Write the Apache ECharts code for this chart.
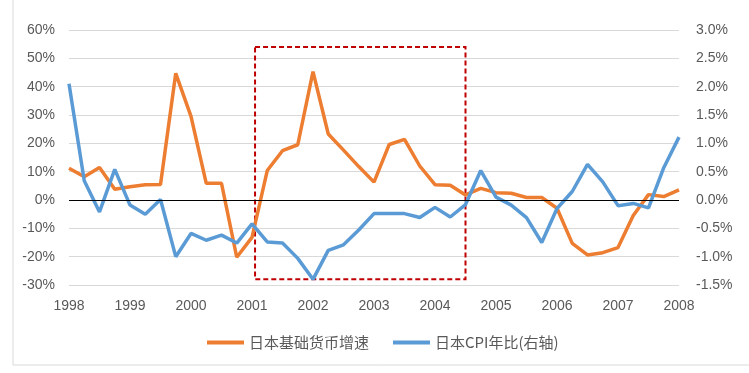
<!DOCTYPE html>
<html>
<head>
<meta charset="utf-8">
<script src="https://cdn.jsdelivr.net/npm/echarts@6/dist/echarts.min.js"></script>
<style>
html,body{margin:0;padding:0;background:#fff;}
#main{width:749px;height:373px;}
</style>
</head>
<body>
<div id="main"></div>
<script>
// Quarterly periods
var quarters = [
  '1998Q1','1998Q2','1998Q3','1998Q4',
  '1999Q1','1999Q2','1999Q3','1999Q4',
  '2000Q1','2000Q2','2000Q3','2000Q4',
  '2001Q1','2001Q2','2001Q3','2001Q4',
  '2002Q1','2002Q2','2002Q3','2002Q4',
  '2003Q1','2003Q2','2003Q3','2003Q4',
  '2004Q1','2004Q2','2004Q3','2004Q4',
  '2005Q1','2005Q2','2005Q3','2005Q4',
  '2006Q1','2006Q2','2006Q3','2006Q4',
  '2007Q1','2007Q2','2007Q3','2007Q4',
  '2008Q1'
];
// 日本基础货币增速 (%), left axis
var baseMoney = [
  11.2, 8.2, 11.5, 3.8,
  4.7, 5.4, 5.5, 44.7,
  29.5, 5.9, 5.9, -20.2,
  -13.2, 10.4, 17.4, 19.5,
  45.3, 23.3, 17.6, 11.8,
  6.3, 19.6, 21.4, 12.0,
  5.4, 5.2, 1.8, 4.1,
  2.6, 2.4, 0.9, 0.9,
  -2.9, -15.3, -19.4, -18.6,
  -16.8, -5.5, 1.9, 1.2,
  3.6
];
// 日本CPI年比 (%), right axis
var cpi = [
  2.05, 0.34, -0.21, 0.54,
  -0.09, -0.25, 0.01, -1.00,
  -0.59, -0.71, -0.62, -0.76,
  -0.42, -0.74, -0.76, -1.03,
  -1.40, -0.89, -0.79, -0.53,
  -0.24, -0.24, -0.24, -0.31,
  -0.13, -0.30, -0.08, 0.52,
  0.05, -0.09, -0.31, -0.75,
  -0.15, 0.15, 0.63, 0.32,
  -0.10, -0.06, -0.14, 0.57,
  1.11
];
// Axis ticks
var leftTicks = {min: -30, max: 60, interval: 10};
var rightTicks = {min: -1.5, max: 3.0, interval: 0.5};
var yearTicks = {min: 1998, max: 2008, interval: 1};
// Highlight box (data space): x in years, y in left-axis %
var boxX = [2001.05, 2004.5];
var boxY = [54, -28];

var seriesNames = ['日本基础货币增速', '日本CPI年比(右轴)'];

function qx(q) {
  var y = parseInt(q.slice(0, 4), 10);
  var n = parseInt(q.slice(5), 10);
  return y + (n - 1) / 4;
}
function pairs(vals) {
  return quarters.map(function (q, i) { return [qx(q), vals[i]]; });
}

var font = '"Liberation Sans", Arial, sans-serif';
var labelColor = '#595959';

var chart = echarts.init(document.getElementById('main'), null, {renderer: 'canvas'});
chart.setOption({
  animation: false,
  backgroundColor: '#ffffff',
  grid: {left: 69, right: 70, top: 30, bottom: 88, containLabel: false},
  graphic: [{
    type: 'rect',
    shape: {x: 13, y: -5, width: 800, height: 370},
    style: {fill: 'none', stroke: '#D9D9D9', lineWidth: 1},
    silent: true
  }],
  legend: {
    left: 202, top: 330,
    itemWidth: 37, itemHeight: 4, itemGap: 24,
    icon: 'rect',
    textStyle: {color: labelColor, fontSize: 15, fontFamily: '"Noto Sans CJK SC", sans-serif'},
    data: seriesNames
  },
  xAxis: {
    type: 'value',
    min: yearTicks.min, max: yearTicks.max, interval: yearTicks.interval,
    axisLine: {show: false},
    axisTick: {show: false},
    splitLine: {show: false},
    axisLabel: {color: labelColor, fontSize: 14, fontFamily: font, margin: 14,
      showMinLabel: true, showMaxLabel: true,
      formatter: function (v) { return String(Math.round(v)); }}
  },
  yAxis: [{
    type: 'value',
    min: leftTicks.min, max: leftTicks.max, interval: leftTicks.interval,
    axisLine: {show: false}, axisTick: {show: false},
    splitLine: {lineStyle: {color: '#D9D9D9', width: 1}},
    axisLabel: {color: labelColor, fontSize: 14, fontFamily: font, margin: 14,
      formatter: function (v) { return v + '%'; }}
  }, {
    type: 'value',
    min: rightTicks.min, max: rightTicks.max, interval: rightTicks.interval,
    axisLine: {show: false}, axisTick: {show: false},
    splitLine: {show: false},
    axisLabel: {color: labelColor, fontSize: 14, fontFamily: font, margin: 17,
      formatter: function (v) { return v.toFixed(1) + '%'; }}
  }],
  series: [{
    name: seriesNames[0],
    type: 'line',
    yAxisIndex: 0,
    data: pairs(baseMoney),
    showSymbol: false,
    symbol: 'none',
    itemStyle: {color: '#ED7D31'},
    lineStyle: {color: '#ED7D31', width: 3.5},
    z: 3,
    markLine: {
      silent: true, symbol: 'none', label: {show: false},
      lineStyle: {color: '#000000', width: 1, type: 'solid'},
      data: [{yAxis: 0}]
    },
    markArea: {
      silent: true,
      itemStyle: {color: 'rgba(0,0,0,0)', borderColor: '#C00000', borderWidth: 2, borderType: [5, 3]},
      data: [[{xAxis: boxX[0], yAxis: boxY[0]}, {xAxis: boxX[1], yAxis: boxY[1]}]]
    }
  }, {
    name: seriesNames[1],
    type: 'line',
    yAxisIndex: 1,
    data: pairs(cpi),
    showSymbol: false,
    symbol: 'none',
    itemStyle: {color: '#5B9BD5'},
    lineStyle: {color: '#5B9BD5', width: 3.5},
    z: 4
  }]
});
</script>
</body>
</html>
